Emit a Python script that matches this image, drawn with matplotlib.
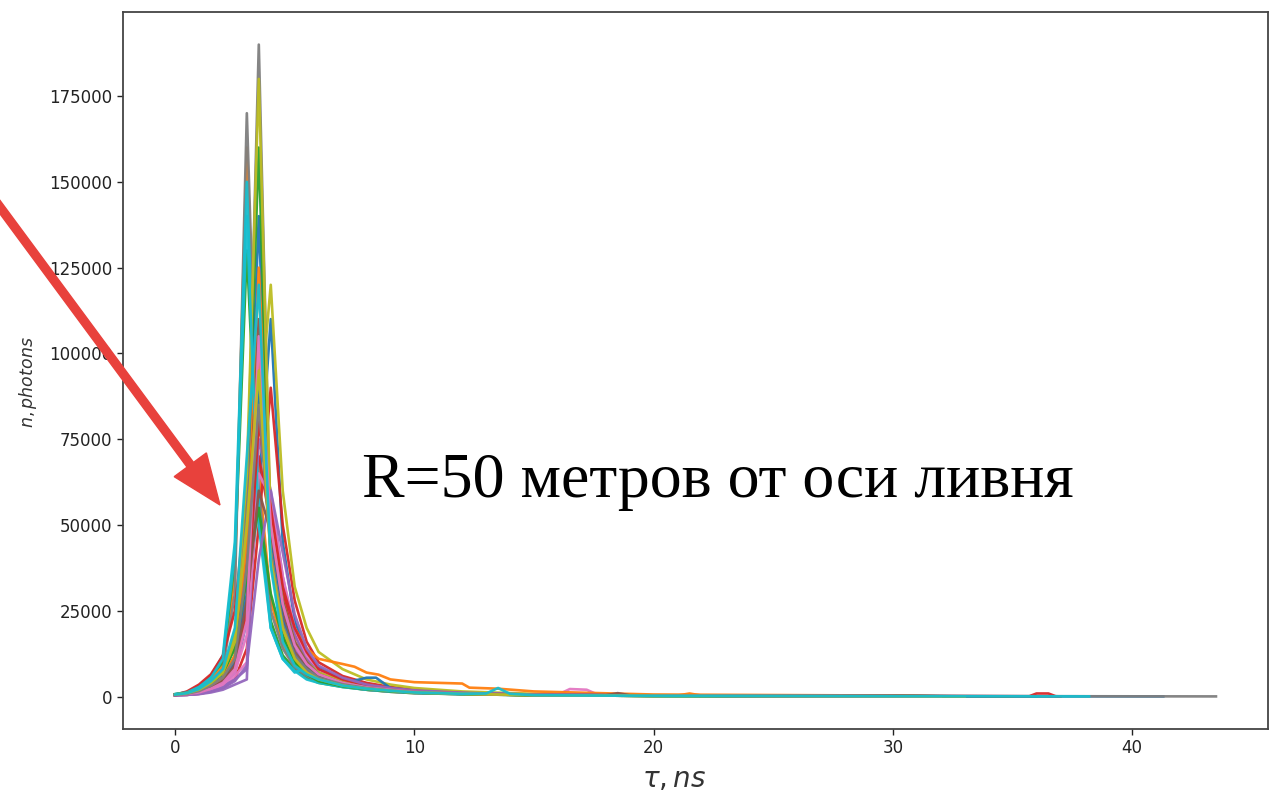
import matplotlib
matplotlib.use("Agg")
import matplotlib.pyplot as plt
import matplotlib.patches as mpatches
from matplotlib.transforms import IdentityTransform
import numpy as np

# time grid (ns) shared by all traces
t_grid = [0, 0.5, 1, 1.5, 2, 2.5, 3, 3.5, 4, 4.5, 5, 5.5, 6, 7, 8, 9, 10, 12, 15, 20, 30]

# photon counts in thousands on t_grid, one row per trace (three colour cycles)
cycle1_k = [
    [0.5, 0.7, 1.2, 2.0, 3.5, 7, 22, 60, 110, 45, 22, 13, 8.5, 5, 3.5, 2.4, 1.8, 1.1, 0.6, 0.3, 0.15],
    [0.6, 1.0, 2.5, 5, 9, 35, 160, 65, 28, 15, 9, 6, 4.5, 3, 2, 1.5, 1.1, 0.7, 0.4, 0.2, 0.1],
    [0.7, 1.2, 3, 6, 10, 40, 130, 55, 22, 12, 8, 5.5, 4, 2.8, 2, 1.4, 1.0, 0.7, 0.4, 0.2, 0.1],
    [0.4, 0.5, 0.8, 1.5, 2.5, 5, 14, 50, 90, 50, 28, 16, 10, 6, 4, 2.8, 2, 1.2, 0.6, 0.3, 0.15],
    [0.4, 0.5, 0.7, 1.2, 2, 3.5, 5, 100, 50, 25, 14, 9, 6, 4, 2.8, 2, 1.5, 1, 0.5, 0.3, 0.1],
    [0.5, 0.8, 1.5, 3, 5, 10, 35, 95, 45, 22, 12, 8, 5.5, 3.5, 2.5, 1.8, 1.3, 0.9, 0.5, 0.3, 0.1],
    [0.5, 0.6, 1.0, 2, 3, 6, 10, 85, 55, 30, 16, 10, 6.5, 4, 2.8, 2, 1.5, 1, 0.6, 0.3, 0.1],
    [0.6, 1.0, 2.2, 4.5, 8, 30, 170, 60, 25, 14, 8.5, 6, 4.5, 3, 2, 1.4, 1.0, 0.7, 0.4, 0.2, 0.1],
    [0.5, 0.7, 1.2, 2.2, 4, 8, 25, 80, 120, 60, 32, 20, 13, 8, 5, 3.5, 2.5, 1.5, 0.8, 0.4, 0.15],
    [0.7, 1.3, 3, 6, 12, 45, 150, 55, 20, 11, 7, 8.5, 7, 4, 2.5, 1.8, 1.2, 0.8, 0.5, 0.3, 0.1],
]
cycle2_k = [
    [0.5, 0.8, 1.8, 3.5, 6, 15, 50, 140, 40, 20, 12, 8, 6, 3.8, 5.5, 2.5, 1.6, 1, 0.5, 0.3, 0.1],
    [0.5, 0.8, 1.6, 3, 5.5, 12, 40, 125, 55, 30, 20, 14, 11, 9.5, 7, 5, 4.2, 3.8, 1.5, 0.6, 0.3],
    [0.6, 0.9, 2, 4, 7, 18, 60, 160, 40, 18, 10, 7, 5, 3.2, 2.2, 1.6, 1.2, 0.8, 0.4, 0.2, 0.1],
    [0.5, 1.5, 3.5, 6.5, 12, 25, 60, 70, 50, 30, 18, 11, 7, 4.2, 2.8, 2, 1.4, 0.9, 0.5, 0.3, 0.1],
    [0.4, 0.5, 0.9, 1.8, 3, 5, 8, 75, 60, 35, 18, 11, 7, 4.2, 3, 2.1, 1.5, 1, 0.5, 0.3, 0.1],
    [0.5, 0.7, 1.4, 2.8, 5, 11, 40, 110, 48, 24, 13, 8.5, 6, 3.8, 2.6, 1.9, 1.4, 0.9, 0.5, 0.3, 0.1],
    [0.5, 0.6, 1.1, 2, 3.5, 7, 18, 65, 58, 35, 20, 12, 8, 4.5, 3, 2.2, 1.6, 1, 0.5, 0.3, 0.1],
    [0.6, 0.9, 2, 4, 7, 16, 55, 190, 45, 20, 11, 7.5, 5.5, 3.5, 2.4, 1.7, 1.2, 0.8, 0.4, 0.2, 0.1],
    [0.6, 0.9, 2, 4, 7, 18, 65, 180, 50, 28, 16, 10, 7, 4.5, 3, 2.1, 1.5, 1, 0.5, 0.3, 0.1],
    [0.7, 1.2, 2.8, 5.5, 11, 42, 140, 50, 20, 11, 7.5, 5, 4, 2.8, 2, 1.5, 1.1, 0.7, 0.4, 0.2, 0.1],
]
cycle3_k = [
    [0.5, 0.7, 1.4, 2.8, 5, 10, 30, 90, 45, 22, 12, 8, 5.5, 3.5, 2.5, 1.8, 1.3, 0.9, 0.5, 0.3, 0.15],
    [0.5, 0.8, 1.6, 3, 5.5, 12, 45, 100, 42, 20, 11, 7, 5, 3.3, 2.4, 1.7, 1.2, 0.8, 0.4, 0.2, 0.1],
    [0.6, 1.0, 2, 4, 7, 14, 35, 55, 30, 17, 10, 6.5, 4.5, 3, 2.2, 1.6, 1.2, 0.8, 0.4, 0.2, 0.1],
    [0.5, 0.7, 1.3, 2.5, 4.5, 9, 25, 80, 55, 32, 20, 13, 8, 5, 3.2, 2.3, 1.6, 1, 0.5, 0.3, 0.15],
    [0.4, 0.5, 0.8, 1.5, 2.5, 4.5, 9, 40, 60, 42, 24, 14, 9, 5.5, 3.5, 2.5, 1.8, 1.1, 0.6, 0.3, 0.1],
    [0.5, 0.7, 1.3, 2.5, 4.5, 9, 28, 60, 48, 28, 16, 10, 6.5, 4, 2.7, 2, 1.4, 0.9, 0.5, 0.3, 0.1],
    [0.5, 0.7, 1.2, 2.3, 4, 8, 22, 105, 50, 27, 15, 9.5, 6.5, 4, 2.7, 2, 1.4, 0.9, 0.5, 0.3, 0.1],
    [0.5, 0.8, 1.6, 3.2, 5.5, 11, 38, 85, 42, 21, 12, 8, 5.5, 3.6, 2.5, 1.8, 1.3, 0.9, 0.5, 0.3, 0.15],
    [0.6, 1.0, 2.0, 4.0, 7, 16, 50, 95, 40, 20, 11, 7, 5, 3.2, 2.3, 1.7, 1.2, 0.8, 0.4, 0.2, 0.1],
    [0.6, 1.0, 2.2, 4.5, 8, 20, 70, 120, 38, 16, 9, 6.5, 5, 3.2, 2.3, 1.7, 1.2, 0.8, 0.4, 0.2, 0.1],
]

# last time sample of each trace (ns) and its value (thousands)
end_t = [33, 35, 30.5, 37, 32, 34, 31, 36, 33, 35,
         34, 32, 36, 31, 33, 35, 30.5, 34, 32, 36,
         41.3, 33, 35, 37.0, 31, 34, 32, 43.5, 33, 38.2]
end_k = 0.05

# extra samples showing small bumps in the tails: (trace index, t, thousands)
bump_trace = [6, 6, 6, 6,
              10,
              11, 11, 11, 11, 11,
              21, 21, 21,
              23, 23, 23, 23,
              25, 25, 25,
              29, 29, 29]
bump_t = [16.0, 16.5, 17.2, 17.7,
          8.4,
          7.5, 8.5, 11, 12.3, 13.5,
          21.0, 21.5, 22.0,
          35.7, 36.0, 36.5, 36.8,
          18.0, 18.5, 19.0,
          13.0, 13.5, 14.0]
bump_k = [0.55, 2.2, 2.0, 0.45,
          5.5,
          8.7, 6.4, 4.0, 2.6, 2.3,
          0.3, 0.9, 0.3,
          0.1, 0.9, 0.9, 0.1,
          0.4, 1.0, 0.4,
          0.9, 2.5, 0.8]

x_ticks = [0, 10, 20, 30, 40]
y_ticks = [0, 25000, 50000, 75000, 100000, 125000, 150000, 175000]

W, H = 1270, 792
fig = plt.figure(figsize=(W / 100, H / 100), dpi=100)
ax = fig.add_axes([123 / W, 1 - 729 / H, (1268 - 123) / W, (729 - 12) / H])

colors = plt.rcParams['axes.prop_cycle'].by_key()['color']
rows = cycle1_k + cycle2_k + cycle3_k
for i, row in enumerate(rows):
    ts = list(t_grid) + [end_t[i]]
    vs = list(row) + [end_k]
    for j, tr in enumerate(bump_trace):
        if tr == i:
            ts.append(bump_t[j])
            vs.append(bump_k[j])
    order = np.argsort(ts)
    ts = np.array(ts)[order]
    vs = np.array(vs)[order] * 1000
    ax.plot(ts, vs, color=colors[i % 10], lw=1.9, alpha=0.95)

ax.set_xticks(x_ticks)
ax.set_yticks(y_ticks)
ax.tick_params(labelsize=12, length=4, width=1, colors='#222222')
for s in ax.spines.values():
    s.set_color('#444444')
    s.set_linewidth(1.3)

ax.set_xlabel(r'$\tau, ns$', fontsize=20, color='#333333')
ax.xaxis.set_label_coords((674 - 123) / 1145, -50 / 717)
ax.set_ylabel(r'$n, photons$', fontsize=12.5, color='#333333')
ax.yaxis.set_label_coords((28 - 123) / 1145, (729 - 382) / 717)
ax.xaxis.label.set_va('center')
ax.yaxis.label.set_va('center')

# annotation text
fig.text(362 / W, 1 - 497 / H, 'R=50 метров от оси ливня',
         family='Liberation Serif', fontsize=46, color='black',
         ha='left', va='baseline')

# red arrow in pixel coordinates
x0, y0 = -40, H - 153
x1, y1 = 220, H - 505
arrow = mpatches.FancyArrow(x0, y0, x1 - x0, y1 - y0, width=8, head_width=40,
                            head_length=50, length_includes_head=True,
                            color='#e8413c', transform=IdentityTransform())
fig.add_artist(arrow)

fig.savefig('out.png', dpi=100)
